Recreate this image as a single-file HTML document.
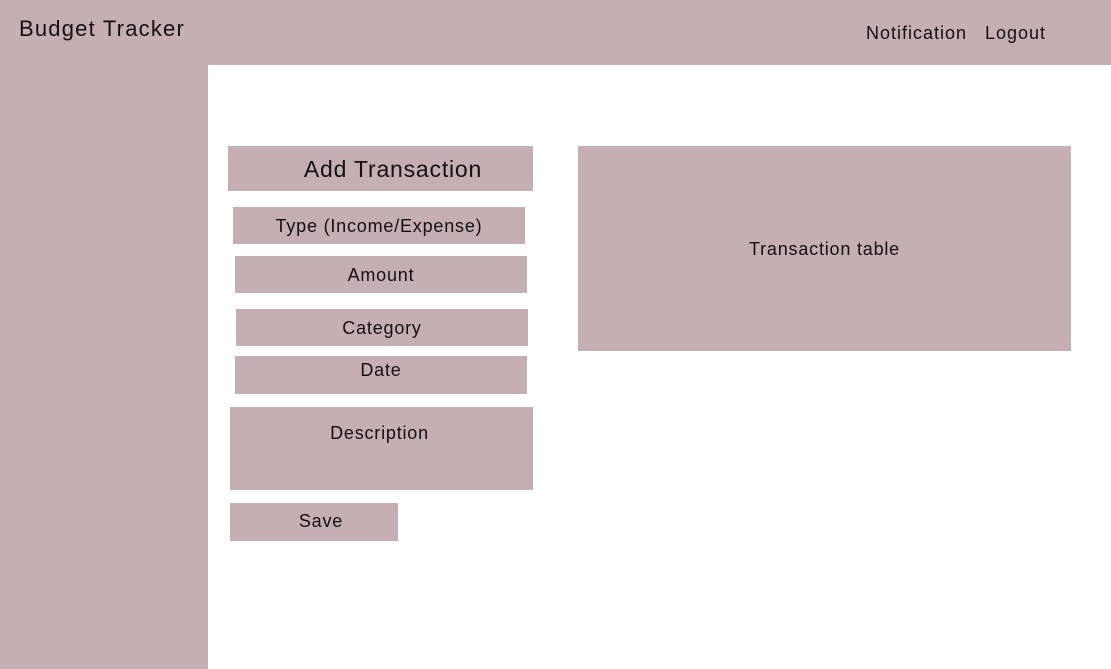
<!DOCTYPE html>
<html><head><style>
body{margin:0;width:1111px;height:669px;position:relative;background:#fff;font-family:"Liberation Sans",sans-serif;color:#111;overflow:hidden;letter-spacing:0.8px}
div{position:absolute;background:#c5aeb4}
span{position:absolute;white-space:nowrap}
.c{text-align:center}
</style></head><body>
<div style="left:0;top:0;width:1111px;height:65px"></div>
<div style="left:0;top:0;width:208px;height:669px"></div>
<span style="left:19px;top:16px;font-size:22px;letter-spacing:1.2px">Budget Tracker</span>
<span style="left:866px;top:23px;font-size:18px;letter-spacing:1px">Notification</span>
<span style="left:985px;top:23px;font-size:18px;letter-spacing:1px">Logout</span>
<div class="c" style="left:228px;top:146px;width:305px;height:45px;font-size:23px;line-height:46px;text-indent:25px">Add Transaction</div>
<div class="c" style="left:233px;top:207px;width:292px;height:37px;font-size:18px;line-height:39px">Type (Income/Expense)</div>
<div class="c" style="left:235px;top:256px;width:292px;height:37px;font-size:18px;line-height:38px">Amount</div>
<div class="c" style="left:236px;top:309px;width:292px;height:37px;font-size:18px;line-height:38px">Category</div>
<div class="c" style="left:235px;top:356px;width:292px;height:38px;font-size:18px;line-height:28px">Date</div>
<div class="c" style="left:230px;top:407px;width:299px;height:83px;padding-right:4px;font-size:18px;line-height:52px">Description</div>
<div class="c" style="left:230px;top:503px;width:182px;height:38px;font-size:18px;line-height:36px;clip-path:inset(0 14px 0 0)">Save</div>
<div class="c" style="left:578px;top:146px;width:493px;height:205px;font-size:18px;line-height:206px">Transaction table</div>
</body></html>
